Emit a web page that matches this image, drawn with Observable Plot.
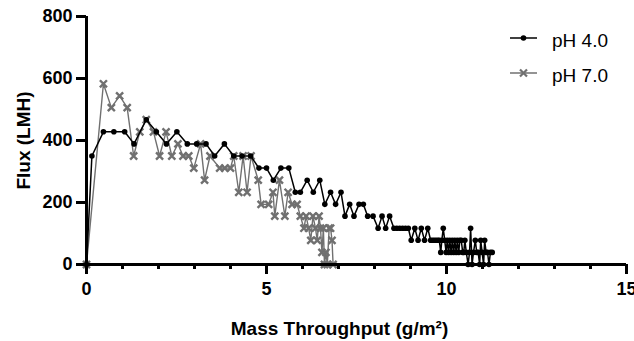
<!DOCTYPE html>
<html><head><meta charset="utf-8">
<script src="https://cdn.jsdelivr.net/npm/d3@7"></script>
<script src="https://cdn.jsdelivr.net/npm/@observablehq/plot@0.6"></script>
<style>body{margin:0;background:#fff}</style>
</head><body><div id="chart"></div>
<script>
// Series: pH 4.0
const x4 = [0, 0.15, 0.47, 0.76, 1.06, 1.32, 1.66, 1.94, 2.22, 2.51, 2.80, 3.06, 3.32, 3.56, 3.83, 4.09, 4.32, 4.56, 4.79, 5.00, 5.19, 5.40, 5.62, 5.80, 5.94, 6.13, 6.30, 6.48, 6.62, 6.78, 6.92, 7.07, 7.18, 7.31, 7.43, 7.57, 7.69, 7.81, 7.96, 8.10, 8.21, 8.31, 8.42, 8.54, 8.62, 8.70, 8.78, 8.86, 8.94, 9.02, 9.12, 9.21, 9.30, 9.39, 9.48, 9.56, 9.61, 9.66, 9.71, 9.76, 9.80, 9.84, 9.87, 9.91, 9.95, 9.99, 10.02, 10.06, 10.09, 10.13, 10.16, 10.20, 10.23, 10.27, 10.30, 10.34, 10.37, 10.41, 10.45, 10.48, 10.51, 10.55, 10.60, 10.64, 10.67, 10.71, 10.75, 10.80, 10.84, 10.88, 10.92, 10.95, 10.99, 11.03, 11.06, 11.10, 11.14, 11.18, 11.22, 11.27];
const y4 = [0, 350, 428, 428, 428, 389, 467, 428, 389, 428, 389, 389, 389, 350, 389, 350, 350, 350, 311, 311, 272, 311, 311, 233, 233, 272, 233, 272, 194, 233, 194, 233, 156, 194, 156, 194, 194, 156, 156, 117, 156, 117, 156, 117, 117, 117, 117, 117, 117, 78, 117, 78, 117, 78, 117, 78, 78, 78, 78, 78, 78, 39, 78, 117, 78, 39, 78, 39, 78, 39, 78, 39, 78, 39, 78, 39, 78, 78, 39, 39, 78, 39, 0, 39, 117, 0, 39, 78, 39, 39, 0, 78, 39, 0, 78, 39, 39, 0, 39, 39];
// Series: pH 7.0
const x7 = [0, 0.47, 0.69, 0.92, 1.13, 1.31, 1.48, 1.66, 1.86, 2.03, 2.21, 2.37, 2.54, 2.68, 2.84, 2.98, 3.17, 3.28, 3.43, 3.70, 3.84, 4.00, 4.09, 4.23, 4.35, 4.46, 4.57, 4.77, 4.85, 5.06, 5.18, 5.23, 5.36, 5.51, 5.60, 5.71, 5.85, 5.94, 6.04, 6.10, 6.17, 6.23, 6.29, 6.36, 6.41, 6.46, 6.50, 6.54, 6.58, 6.61, 6.65, 6.69, 6.74, 6.78, 6.82, 6.85];
const y7 = [0, 583, 506, 544, 506, 350, 428, 467, 428, 350, 428, 350, 389, 350, 350, 311, 389, 272, 350, 311, 311, 311, 350, 233, 350, 233, 350, 272, 194, 194, 233, 156, 272, 156, 233, 194, 194, 156, 117, 156, 117, 78, 156, 117, 78, 156, 117, 39, 117, 0, 39, 0, 117, 117, 78, 0];

const seriesNames = ["pH 4.0", "pH 7.0"];
const xMajorTicks = [0, 5, 10, 15];
const xMinorTicks = [0, 1, 2, 3, 4, 5, 6, 7, 8, 9, 10, 11, 12, 13, 14, 15];
const yTicks = [0, 200, 400, 600, 800];
const xTitle = "Mass Throughput (g/m²)";
const yTitle = "Flux (LMH)";

const ph4 = x4.map((x, i) => ({x, y: y4[i]}));
const ph7 = x7.map((x, i) => ({x, y: y7[i]}));
const BLACK = "#000000", GRAY = "#707070";

function legendMark() {
  const g = d3.create("svg:g").attr("font-weight", "normal").attr("font-size", 19).attr("text-anchor", "start");
  const rows = [
    {name: seriesNames[0], y: 38, color: BLACK, sym: "circle"},
    {name: seriesNames[1], y: 73, color: GRAY, sym: "times"}
  ];
  for (const r of rows) {
    g.append("line").attr("x1", 510).attr("x2", 537).attr("y1", r.y).attr("y2", r.y)
      .attr("stroke", r.color).attr("stroke-width", 1.5);
    if (r.sym === "circle") {
      g.append("circle").attr("cx", 523.5).attr("cy", r.y).attr("r", 2.8).attr("fill", r.color);
    } else {
      g.append("path").attr("d", `M${520},${r.y-3.5}L${527},${r.y+3.5}M${520},${r.y+3.5}L${527},${r.y-3.5}`)
        .attr("stroke", r.color).attr("stroke-width", 2.2);
    }
    g.append("text").attr("x", 552).attr("y", r.y + 8.5).attr("fill", "#000").attr("text-anchor", "start").text(r.name);
  }
  return g.node();
}

const chart = Plot.plot({
  width: 634,
  height: 341,
  marginLeft: 86,
  marginRight: 8,
  marginTop: 16,
  marginBottom: 77,
  style: {fontFamily: "'Liberation Sans', Arial, sans-serif", fontSize: "18px", fontWeight: "bold", background: "#fff", overflow: "visible"},
  x: {domain: [0, 15]},
  y: {domain: [0, 800]},
  marks: [
    Plot.line(ph7, {x: "x", y: "y", stroke: GRAY, strokeWidth: 1.4}),
    Plot.dot(ph7, {x: "x", y: "y", symbol: "times", r: 3.3, stroke: GRAY, strokeWidth: 2.4}),
    Plot.line(ph4, {x: "x", y: "y", stroke: BLACK, strokeWidth: 1.5}),
    Plot.dot(ph4, {x: "x", y: "y", r: 2.8, fill: BLACK}),
    Plot.axisX({ticks: xMinorTicks, tickSize: 5, strokeWidth: 3, fill: "none", label: null}),
    Plot.axisX({ticks: xMajorTicks, tickSize: 10, tickPadding: 8, strokeWidth: 3, label: null, fontSize: 18}),
    Plot.axisY({ticks: yTicks, tickSize: 10, tickPadding: 4, strokeWidth: 3, label: null, fontSize: 18}),
    Plot.ruleY([0], {stroke: BLACK, strokeWidth: 3}),
    Plot.ruleX([0], {stroke: BLACK, strokeWidth: 3}),
    Plot.text([yTitle], {frameAnchor: "left", rotate: -90, dx: -63, textAnchor: "middle", lineAnchor: "middle", fontSize: 19, fontWeight: "bold"}),
    Plot.text([xTitle], {frameAnchor: "bottom", dy: 64, dx: -17, textAnchor: "middle", lineAnchor: "middle", fontSize: 19, fontWeight: "bold"}),
    legendMark
  ]
});
document.getElementById("chart").append(chart);
</script>
</body></html>
